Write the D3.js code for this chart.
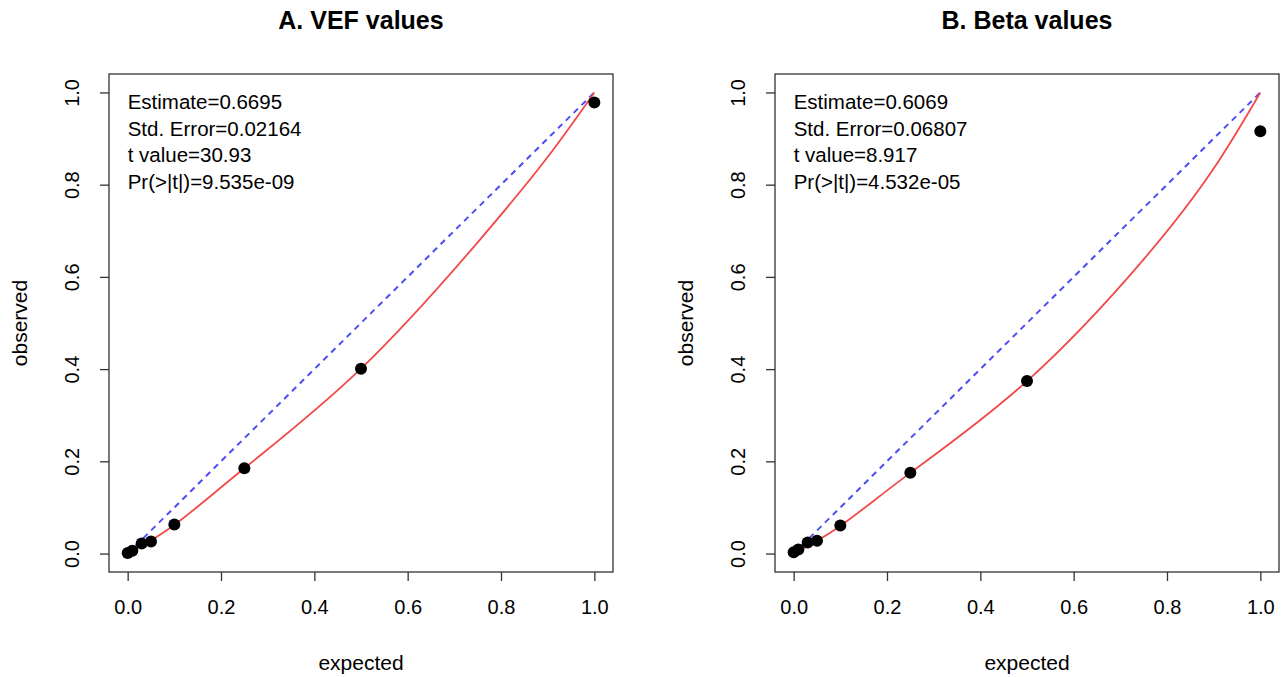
<!DOCTYPE html>
<html>
<head>
<meta charset="utf-8">
<script src="https://cdn.jsdelivr.net/npm/d3@7"></script>
<style>
  body { margin: 0; background: #fff; }
  text { font-family: "Liberation Sans", Arial, sans-serif; fill: #000; }
</style>
</head>
<body>
<svg id="chart" width="1285" height="677"></svg>
<script>
// values
const expected = [0, 0.01, 0.03, 0.05, 0.1, 0.25, 0.5, 1.0];
const observedVEF = [0.001, 0.006, 0.022, 0.026, 0.063, 0.185, 0.401, 0.978];
const observedBeta = [0.003, 0.009, 0.024, 0.028, 0.061, 0.175, 0.374, 0.916];

// fitted curves (red)
const fitX = [0, 0.1, 0.25, 0.5, 0.75, 0.9, 1.0];
const fitYVEF = [0, 0.062, 0.185, 0.401, 0.675, 0.86, 1.0];
const fitYBeta = [0, 0.06, 0.175, 0.374, 0.638, 0.835, 1.0];

const ticks = [0, 0.2, 0.4, 0.6, 0.8, 1.0];
const titles = ['A. VEF values', 'B. Beta values'];
const statsVEF = ['Estimate=0.6695', 'Std. Error=0.02164', 't value=30.93', 'Pr(>|t|)=9.535e-09'];
const statsBeta = ['Estimate=0.6069', 'Std. Error=0.06807', 't value=8.917', 'Pr(>|t|)=4.532e-05'];

const panels = [
  { left: 109, title: titles[0], obs: observedVEF, fy: fitYVEF, stats: statsVEF },
  { left: 775, title: titles[1], obs: observedBeta, fy: fitYBeta, stats: statsBeta }
];

const svg = d3.select('#chart');
const boxW = 504, boxTop = 74, boxH = 498;

panels.forEach(function (p) {
  const g = svg.append('g').attr('transform', 'translate(' + p.left + ',' + boxTop + ')');
  // R style 4% padding around 0..1
  const xs = d3.scaleLinear().domain([-0.04, 1.04]).range([0, boxW]);
  const ys = d3.scaleLinear().domain([-0.04, 1.04]).range([boxH, 0]);

  // identity line
  g.append('line')
    .attr('x1', xs(0)).attr('y1', ys(0))
    .attr('x2', xs(1)).attr('y2', ys(1))
    .attr('stroke', '#4d4df5')
    .attr('stroke-width', 2)
    .attr('stroke-dasharray', '6,5');

  // fitted curve
  const fit = fitX.map(function (v, i) { return [v, p.fy[i]]; });
  g.append('path')
    .datum(fit)
    .attr('fill', 'none')
    .attr('stroke', '#f24a4a')
    .attr('stroke-width', 1.8)
    .attr('d', d3.line()
      .x(function (d) { return xs(d[0]); })
      .y(function (d) { return ys(d[1]); })
      .curve(d3.curveNatural));

  // points
  g.selectAll('circle.pt')
    .data(expected.map(function (e, i) { return [e, p.obs[i]]; }))
    .enter().append('circle')
    .attr('class', 'pt')
    .attr('cx', function (d) { return xs(d[0]); })
    .attr('cy', function (d) { return ys(d[1]); })
    .attr('r', 6)
    .attr('fill', '#000');

  // box
  g.append('rect')
    .attr('x', 0).attr('y', 0)
    .attr('width', boxW).attr('height', boxH)
    .attr('fill', 'none')
    .attr('stroke', '#333')
    .attr('stroke-width', 1.3);

  // axes
  const xAxis = g.append('g')
    .attr('transform', 'translate(0,' + boxH + ')')
    .call(d3.axisBottom(xs).tickValues(ticks).tickFormat(d3.format('.1f')).tickSize(9).tickPadding(19));
  const yAxis = g.append('g')
    .call(d3.axisLeft(ys).tickValues(ticks).tickFormat(d3.format('.1f')).tickSize(9));
  [xAxis, yAxis].forEach(function (a) {
    a.select('.domain').remove();
    a.selectAll('.tick line').attr('stroke', '#333').attr('stroke-width', 1.3);
    a.selectAll('.tick text').style('font-size', '20px').attr('fill', '#000');
  });
  yAxis.selectAll('.tick text')
    .attr('x', null).attr('dy', null)
    .attr('text-anchor', 'middle')
    .attr('transform', 'translate(-30,0) rotate(-90)');

  // titles and labels
  g.append('text')
    .attr('x', boxW / 2).attr('y', -45)
    .attr('text-anchor', 'middle')
    .style('font-size', '25px').style('font-weight', 'bold')
    .text(p.title);
  g.append('text')
    .attr('x', boxW / 2).attr('y', 596)
    .attr('text-anchor', 'middle')
    .style('font-size', '21px')
    .text('expected');
  g.append('text')
    .attr('transform', 'translate(' + (-82) + ',' + (boxH / 2) + ') rotate(-90)')
    .attr('text-anchor', 'middle')
    .style('font-size', '21px')
    .text('observed');

  // stats text
  g.selectAll('text.stat')
    .data(p.stats)
    .enter().append('text')
    .attr('class', 'stat')
    .attr('x', xs(0))
    .attr('y', function (d, i) { return 35 + i * 26.7; })
    .style('font-size', '20.5px')
    .text(function (d) { return d; });
});
</script>
</body>
</html>
